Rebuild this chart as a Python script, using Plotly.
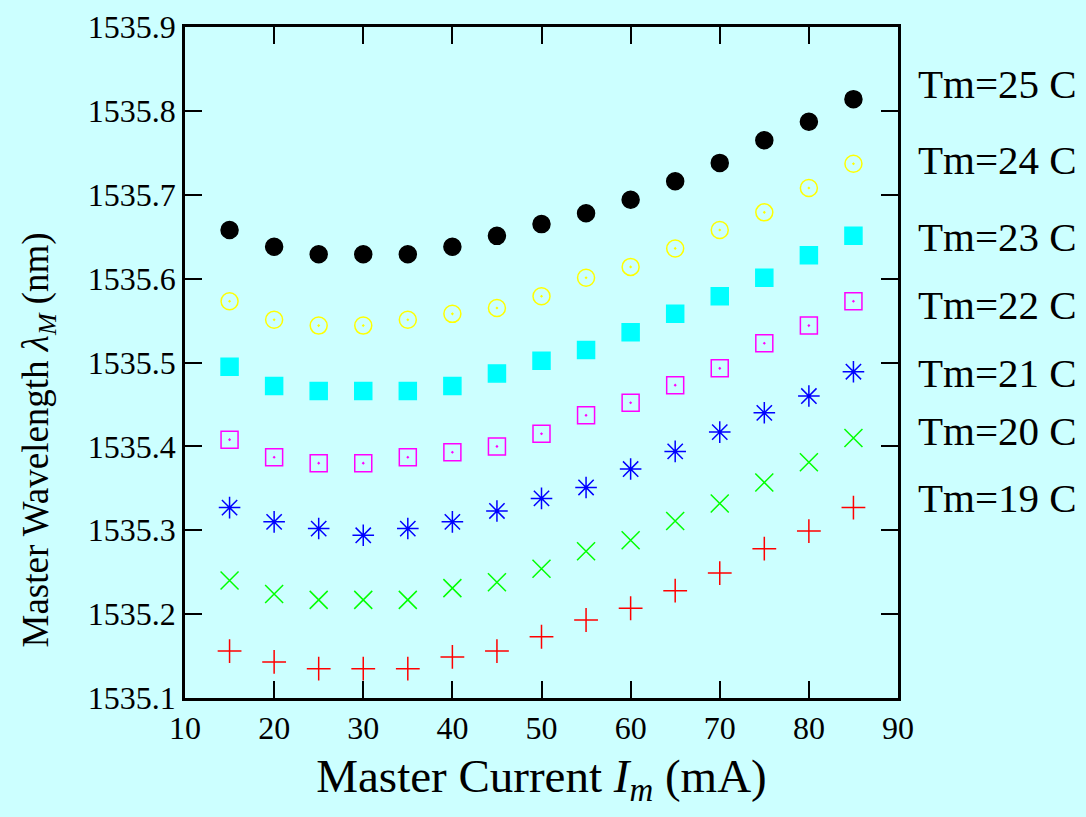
import plotly.graph_objects as go

current_mA = [15, 20, 25, 30, 35, 40, 45, 50, 55, 60, 65, 70, 75, 80, 85]

tm25 = [1535.658, 1535.638, 1535.629, 1535.629, 1535.629, 1535.638, 1535.651, 1535.665,
        1535.678, 1535.694, 1535.716, 1535.738, 1535.765, 1535.787, 1535.814]
tm24 = [1535.573, 1535.551, 1535.544, 1535.544, 1535.551, 1535.558, 1535.565, 1535.579,
        1535.601, 1535.614, 1535.636, 1535.658, 1535.679, 1535.708, 1535.737]
tm23 = [1535.495, 1535.472, 1535.466, 1535.466, 1535.466, 1535.472, 1535.487, 1535.502,
        1535.515, 1535.536, 1535.558, 1535.579, 1535.601, 1535.628, 1535.651]
tm22 = [1535.408, 1535.387, 1535.380, 1535.380, 1535.387, 1535.393, 1535.400, 1535.415,
        1535.437, 1535.452, 1535.473, 1535.493, 1535.523, 1535.544, 1535.573]
tm21 = [1535.327, 1535.310, 1535.302, 1535.294, 1535.302, 1535.310, 1535.323, 1535.338,
        1535.351, 1535.373, 1535.394, 1535.417, 1535.440, 1535.460, 1535.489]
tm20 = [1535.240, 1535.224, 1535.217, 1535.217, 1535.217, 1535.231, 1535.238, 1535.254,
        1535.275, 1535.288, 1535.311, 1535.332, 1535.357, 1535.381, 1535.410]
tm19 = [1535.156, 1535.143, 1535.135, 1535.135, 1535.135, 1535.149, 1535.156, 1535.173,
        1535.193, 1535.207, 1535.228, 1535.249, 1535.278, 1535.299, 1535.327]

series_names = ["Tm=25 C", "Tm=24 C", "Tm=23 C", "Tm=22 C", "Tm=21 C", "Tm=20 C", "Tm=19 C"]
series_values = [tm25, tm24, tm23, tm22, tm21, tm20, tm19]
series_colors = ["#000000", "#ffff00", "#00ffff", "#ff00ff", "#0000ff", "#00ff00", "#ff0000"]
series_symbols = ["circle", "circle-open-dot", "square", "square-open-dot",
                  "asterisk-open", "x-thin-open", "cross-thin-open"]
series_sizes = [17, 17, 17, 17, 18, 18, 17]
label_y = [1535.832, 1535.741, 1535.650, 1535.569, 1535.488, 1535.418, 1535.339]

x_title = "Master Current <i>I</i><sub><i>m</i></sub> (mA)"
y_title = "Master Wavelength <i>λ</i><sub><i>M</i></sub> (nm)"

FONT = "Liberation Serif"
BG = "#ccffff"

fig = go.Figure()
for name, vals, col, sym, sz in zip(series_names, series_values, series_colors,
                                     series_symbols, series_sizes):
    fig.add_trace(go.Scatter(
        x=current_mA, y=vals, mode="markers", name=name,
        marker=dict(symbol=sym, color=col, size=sz,
                    line=dict(color=col, width=1.5)),
        showlegend=False,
    ))

for name, ly in zip(series_names, label_y):
    fig.add_annotation(x=1.025, xref="paper", y=ly, yref="y", text=name,
                       showarrow=False, xanchor="left", yanchor="middle",
                       font=dict(family=FONT, size=41, color="black"))

# y-axis title as a rotated annotation for exact placement
fig.add_annotation(x=-0.205, xref="paper", y=0.385, yref="paper", text=y_title,
                   textangle=-90, showarrow=False, xanchor="center", yanchor="middle",
                   font=dict(family=FONT, size=37, color="black"))

axis_common = dict(
    showline=True, linecolor="black", linewidth=2.5, mirror="allticks",
    ticks="inside", ticklen=17, tickwidth=2, tickcolor="black",
    showgrid=False, zeroline=False,
    tickfont=dict(family=FONT, size=32, color="black"),
)

fig.update_xaxes(range=[10, 90], dtick=10, tick0=10,
                 title=dict(text=x_title,
                            font=dict(family=FONT, size=47, color="black"),
                            standoff=14),
                 **axis_common)
fig.update_yaxes(range=[1535.1, 1535.9], dtick=0.1, tick0=1535.1, tickformat=".1f",
                 **axis_common)

fig.update_layout(
    width=1086, height=817,
    margin=dict(l=185, r=188, t=27, b=119, autoexpand=False),
    paper_bgcolor=BG, plot_bgcolor=BG,
    font=dict(family=FONT, color="black"),
)

fig.write_html("out.html")
